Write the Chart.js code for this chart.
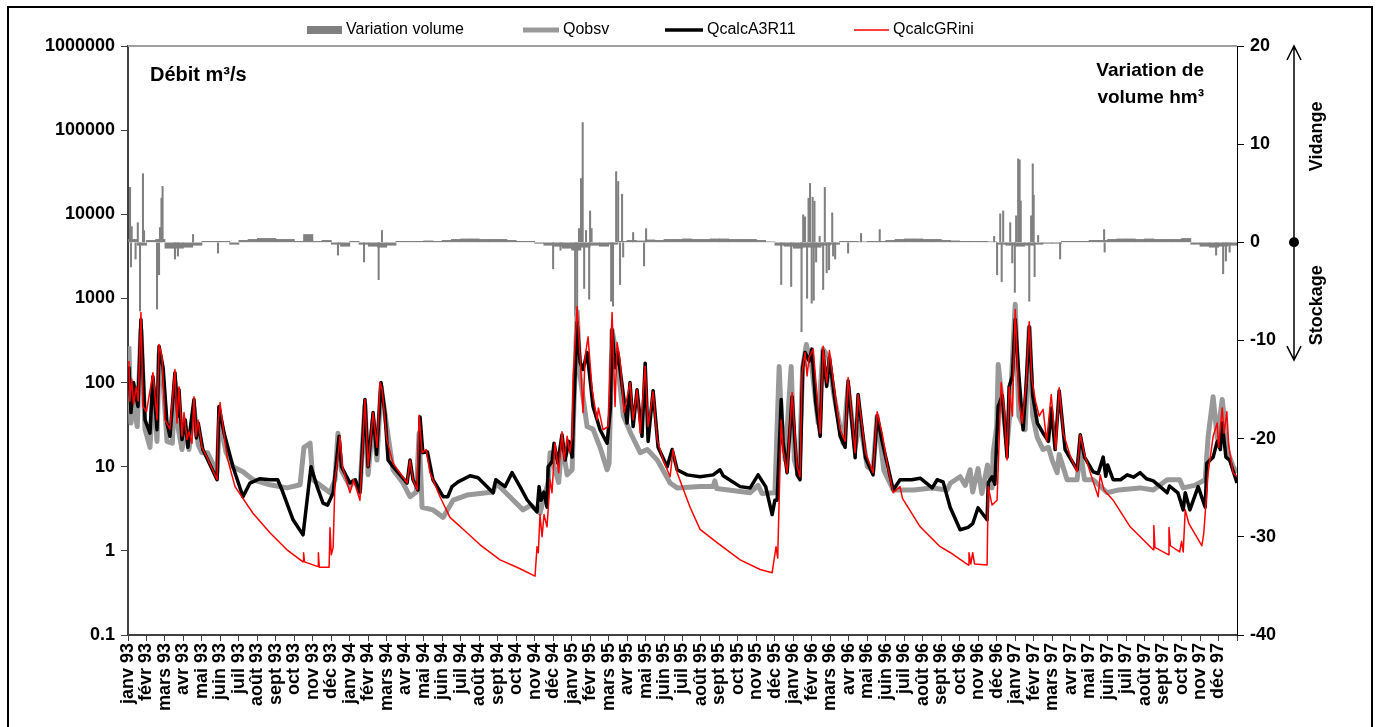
<!DOCTYPE html>
<html lang="fr">
<head>
<meta charset="UTF-8">
<title>Débit et variation de volume 1993-1997</title>
<script src="https://cdn.jsdelivr.net/npm/chart.js"></script>
<style>
  html, body { margin: 0; padding: 0; background: #fff; }
  .chart-container { position: relative; width: 1380px; height: 727px; }
</style>
</head>
<body>
<div class="chart-container"><canvas id="debitChart" width="1380" height="727"></canvas></div>
<script>
// axe des x : mois depuis le 1er janv 93 (0 .. 60)
const moisNoms = ['janv', 'févr', 'mars', 'avr', 'mai', 'juin', 'juil', 'août', 'sept', 'oct', 'nov', 'déc'];
const annees = ['93', '94', '95', '96', '97'];
const logTicks = [0.1, 1, 10, 100, 1000, 10000, 100000, 1000000];

// débits m3/s : [mois, valeur]
const qObsv = [[0.05,270],[0.16,33],[0.3,60],[0.5,30],[0.7,425],[0.92,28],[1.19,17],[1.35,90],[1.57,20],[1.68,220],[1.9,100],[2.11,20],[2.4,19],[2.54,100],[2.7,30],[2.92,16],[3.1,28],[3.3,16],[3.57,50],[3.8,18],[4.0,14.7],[4.3,14.7],[4.82,8.5],[4.95,36],[5.3,15],[5.68,10],[6.22,8.7],[6.76,7],[7.68,6.1],[8.6,5.6],[9.31,6.1],[9.52,17],[9.85,19],[10.0,7],[10.5,5.8],[10.93,4.9],[11.2,7],[11.36,25],[11.55,9],[12.01,5.8],[12.2,6.8],[12.55,5.5],[12.82,55],[12.99,8],[13.26,36],[13.47,12],[13.69,90],[14.0,30],[14.34,9.2],[14.88,6.4],[15.26,4.4],[15.6,5],[15.75,25],[15.91,3.3],[16.5,3.07],[17.05,2.5],[17.59,4],[18.34,4.6],[19.75,5],[19.9,6.4],[20.4,5],[21.37,3.07],[21.8,3.5],[22.29,2.8],[22.73,6.5],[22.84,14.7],[23.3,6.5],[23.48,19],[23.76,8],[24.03,9.2],[24.13,58],[24.3,700],[24.46,118],[24.84,30],[25.16,28],[25.54,17],[25.92,9.2],[26.03,11],[26.19,420],[26.46,190],[26.8,40],[27.2,25],[27.71,14.7],[28.1,16],[28.63,12],[28.84,10],[29.33,6.4],[29.71,5.6],[30.95,5.8],[31.66,5.8],[31.75,6.8],[31.85,5.5],[33.66,4.9],[34.09,6],[34.3,4.8],[35.0,4.9],[35.23,155],[35.34,40],[35.55,12],[35.88,155],[36.05,12],[36.3,7.6],[36.5,150],[36.7,283],[37.0,150],[37.34,33],[37.6,250],[37.9,200],[38.2,70],[38.69,19],[38.96,90],[39.34,17],[39.6,35],[40.0,10],[40.31,9],[40.53,40],[40.9,9],[41.4,5.3],[42.5,5.3],[43.5,5.6],[44.32,5.3],[44.5,6.4],[45.02,7.6],[45.3,6.0],[45.56,9.2],[45.7,5.0],[45.99,9.5],[46.2,4.8],[46.5,10.5],[46.75,5.6],[46.81,14.7],[47.0,30],[47.08,164],[47.3,60],[47.56,18],[47.7,40],[48.0,850],[48.2,40],[48.54,27.5],[48.76,450],[48.95,40],[49.2,22],[49.51,16],[49.8,17],[50.0,12],[50.27,8.5],[50.38,14],[50.81,7],[51.35,7],[51.52,16],[51.75,7],[52.22,7],[52.98,4.9],[53.6,5.3],[54.76,5.6],[55.47,5.3],[56.22,7],[56.9,7],[57.09,5.6],[57.7,6.0],[58.28,7],[58.44,23],[58.71,68],[58.93,22],[59.2,63],[59.5,15],[59.79,10],[60.0,8.5]];

const qA3R11 = [[0.05,155],[0.16,44],[0.3,100],[0.54,52],[0.7,560],[0.92,36],[1.19,25],[1.35,118],[1.57,27.5],[1.68,270],[1.9,150],[2.11,33],[2.27,23],[2.54,131],[2.7,40],[2.76,82],[2.92,21],[3.1,36],[3.24,17],[3.57,63],[3.7,22],[3.8,33],[4.05,16],[4.82,7],[4.92,52],[5.2,25],[5.68,10],[6.22,4.4],[6.6,6.4],[7.14,7.2],[7.68,7],[8.1,7],[8.39,4.9],[8.93,2.34],[9.47,1.55],[9.9,10],[10.23,5.8],[10.55,3.7],[10.8,3.5],[11.1,4.9],[11.25,10],[11.42,23],[11.55,10],[12.01,6.4],[12.3,7],[12.55,4.9],[12.82,63],[12.99,10],[13.26,44],[13.45,14],[13.69,100],[13.9,44],[14.07,12],[14.34,10],[15.1,6.4],[15.26,12],[15.42,7],[15.69,5.3],[15.8,39],[15.95,14.7],[16.2,15],[16.5,7],[17.05,4.4],[17.3,4.4],[17.53,5.8],[17.86,6.6],[18.51,7.8],[18.94,7.4],[19.75,4.9],[19.9,7.0],[20.4,5.8],[20.78,8.5],[21.21,5.8],[21.59,4.05],[22.13,2.9],[22.24,5.8],[22.35,4],[22.5,5.0],[22.67,3.3],[22.73,10],[22.94,11.5],[23.05,19],[23.25,11],[23.48,24],[23.65,12],[23.85,20],[24.03,13],[24.13,58],[24.3,520],[24.46,173],[24.62,143],[24.84,228],[25.16,52],[25.54,27.5],[25.92,19],[26.1,50],[26.19,425],[26.35,150],[26.5,228],[27.0,33],[27.16,100],[27.33,30],[27.54,82],[27.81,23],[27.98,170],[28.14,20],[28.41,80],[28.68,17],[29.17,10],[29.44,16],[29.71,9.2],[30.25,8],[30.95,7.6],[31.66,8],[32.03,9.2],[32.2,7.8],[33.12,5.8],[33.66,5.6],[34.09,8],[34.5,5.8],[34.85,2.7],[35.0,4],[35.12,4],[35.34,63],[35.44,20],[35.66,8.5],[35.93,68],[36.2,8.0],[36.36,7],[36.5,150],[36.63,228],[36.85,180],[37.0,250],[37.2,60],[37.45,23],[37.6,240],[37.8,90],[37.95,200],[38.3,50],[38.53,23],[38.8,17],[38.96,105],[39.34,12.8],[39.5,72],[39.9,12.8],[40.31,8],[40.53,40],[40.8,20],[41.4,5.3],[41.77,7],[42.4,7],[42.86,7.3],[43.51,5.6],[43.78,7],[44.1,6.6],[44.48,3.3],[45.02,1.78],[45.45,1.9],[45.7,2.1],[45.99,3.25],[46.48,2.34],[46.54,6.5],[46.75,7.6],[46.9,6.2],[47.08,52],[47.3,70],[47.56,13],[47.67,89],[47.85,120],[48.0,560],[48.2,120],[48.43,27.5],[48.6,100],[48.76,460],[48.95,70],[49.2,33],[49.51,25],[49.8,20],[49.95,50],[50.16,16],[50.38,80],[50.7,16],[51.35,9.2],[51.52,24],[51.75,13],[52.22,8.7],[52.49,8.3],[52.76,13],[52.9,7.7],[53.0,10.5],[53.3,7],[53.7,7.0],[54.06,8],[54.4,7.5],[54.76,8.5],[55.1,7.2],[55.47,6.8],[55.84,5.8],[56.22,4.9],[56.35,5.9],[56.8,4.9],[57.09,3.07],[57.2,4.9],[57.45,3.07],[57.9,5.8],[58.28,3.3],[58.37,11],[58.71,13],[58.93,20],[59.1,16],[59.2,33],[59.4,13],[59.6,12],[60.0,6.4]];

const qGRini = [[0.05,180],[0.1,60],[0.2,110],[0.3,55],[0.45,90],[0.55,60],[0.7,680],[0.81,52],[1.0,45],[1.35,131],[1.57,36],[1.68,283],[1.84,204],[2.0,36],[2.27,28],[2.54,143],[2.65,33],[2.76,89],[2.92,23],[3.03,44],[3.19,21],[3.3,26],[3.46,19],[3.57,68],[3.68,23],[3.79,36],[4.0,17],[4.27,13],[4.82,7],[4.87,33],[4.98,58],[5.14,30],[5.36,13],[5.79,5.8],[6.76,2.8],[7.68,1.64],[8.6,1.03],[9.47,0.74],[9.5,0.95],[9.55,0.74],[10.28,0.65],[10.3,0.95],[10.35,0.64],[10.88,0.64],[10.93,1.88],[11.0,0.9],[11.1,1.1],[11.2,7],[11.36,13],[11.47,23],[11.6,10],[12.01,4.9],[12.2,7],[12.55,4.0],[12.82,63],[12.99,10],[13.26,44],[13.47,17],[13.64,100],[13.75,82],[14.0,21],[14.34,11],[15.1,6.4],[15.26,12],[15.42,7],[15.64,5.3],[15.75,41],[15.91,14.7],[16.13,16],[16.34,8.5],[16.88,4.4],[17.42,2.5],[18.34,1.64],[19.05,1.18],[20.13,0.78],[21.1,0.63],[22.02,0.5],[22.13,1.12],[22.2,0.95],[22.29,2.7],[22.4,1.47],[22.51,2.7],[22.67,1.93],[22.84,7],[22.94,4.9],[23.1,19],[23.3,8.5],[23.48,26],[23.6,12],[23.76,23],[23.9,14.7],[24.03,23],[24.08,108],[24.3,800],[24.46,204],[24.62,44],[24.73,204],[24.89,350],[25.11,82],[25.38,36],[25.45,50],[25.7,27.5],[25.97,30],[26.03,68],[26.19,680],[26.35,52],[26.46,300],[26.62,188],[26.84,44],[27.16,100],[27.33,36],[27.54,82],[27.71,25],[27.98,155],[28.14,30],[28.41,78],[28.63,21],[28.95,12],[29.33,7.6],[29.49,16],[29.71,8.5],[30.41,3.3],[30.95,1.8],[31.87,1.25],[33.12,0.78],[34.2,0.6],[34.85,0.55],[35.06,1.12],[35.15,0.82],[35.34,36],[35.44,16],[35.66,8.5],[35.93,76],[36.2,10],[36.36,7.6],[36.47,131],[36.63,228],[36.74,120],[36.85,200],[37.07,250],[37.45,25],[37.61,270],[37.8,100],[37.95,240],[38.3,60],[38.53,27.5],[38.8,20],[38.96,115],[39.34,14.7],[39.5,72],[39.9,14.7],[40.31,8.5],[40.53,45],[40.8,25],[41.1,10],[41.4,4.9],[41.77,5.8],[41.9,4.2],[42.86,1.93],[43.94,1.12],[44.5,0.95],[45.45,0.68],[45.5,0.95],[45.6,0.7],[45.7,0.95],[45.8,0.7],[46.48,0.68],[46.54,5.8],[46.75,3.5],[47.02,4],[47.24,100],[47.4,50],[47.56,12],[47.67,89],[47.85,40],[48.0,740],[48.2,60],[48.38,33],[48.6,100],[48.76,530],[48.9,110],[49.1,60],[49.3,40],[49.4,44],[49.51,48],[49.7,20],[49.95,72],[50.2,16],[50.38,87],[50.6,25],[51.0,13],[51.35,8.7],[51.52,24],[51.75,14],[52.1,8],[52.49,4.4],[52.6,8],[52.8,5.3],[53.3,4.0],[54.22,1.93],[55.47,1.03],[55.5,2.0],[55.56,1.1],[56.28,0.9],[56.32,1.9],[56.4,1.15],[56.9,0.97],[57.0,1.3],[57.09,0.97],[57.2,3.07],[57.4,2.1],[58.0,1.25],[58.1,1.15],[58.2,1.6],[58.44,8.5],[58.71,23],[58.93,33],[59.0,17],[59.2,50],[59.3,25],[59.45,45],[59.55,18],[59.79,8.5],[60.0,7.6]];

// variation de volume hm3 : pics journaliers [mois, valeur]
const volPics = [[0.11,5.6],[0.16,-2.5],[0.2,1.6],[0.41,-1.7],[0.53,2.0],[0.65,-7.0],[0.81,7.0],[0.87,1.2],[1.57,-6.8],[1.68,-3.3],[1.73,1.5],[1.81,4.5],[1.87,5.7],[2.54,-1.7],[2.7,-1.4],[3.52,0.8],[4.87,-1.1],[11.36,-1.3],[12.77,-2.0],[13.56,-3.8],[13.74,1.2],[23.0,-2.7],[23.4,-0.8],[24.19,-7.5],[24.3,-8.0],[24.4,1.4],[24.51,6.5],[24.6,12.2],[24.68,-4.7],[24.78,1.2],[24.95,-5.8],[25.0,3.2],[25.08,1.4],[26.14,-6.0],[26.24,-6.5],[26.41,7.2],[26.52,6.2],[26.62,-4.3],[26.73,4.9],[26.79,-1.5],[27.33,1.0],[27.92,-2.4],[28.03,1.4],[35.34,-4.3],[35.88,-4.5],[36.44,-9.1],[36.53,2.8],[36.63,2.6],[36.74,-5.7],[36.82,4.5],[36.9,6.0],[36.99,-6.2],[37.04,4.6],[37.1,-5.9],[37.14,4.2],[37.23,-2.0],[37.42,0.6],[37.61,-4.8],[37.7,5.6],[37.8,-3.1],[37.93,-2.8],[38.1,3.0],[38.15,-1.4],[38.26,-1.7],[38.96,-1.1],[39.66,0.9],[40.67,1.3],[46.86,0.6],[47.02,-3.3],[47.19,2.9],[47.27,-4.0],[47.35,3.2],[47.73,2.0],[47.84,-2.1],[47.98,-5.1],[48.05,2.7],[48.16,8.5],[48.24,8.4],[48.3,4.2],[48.76,-6.0],[48.86,2.7],[48.95,8.0],[49.0,4.8],[49.05,-3.5],[49.24,0.7],[50.43,-1.7],[52.81,1.3],[52.84,-1.0],[58.87,-1.3],[59.25,-3.2],[59.4,-1.9],[59.6,-1.0]];

// variation de volume hm3 : niveau de fond par demi-mois (janv 93 .. déc 97)
const volQuinzaine = [
  0.3,-0.3, 0.2,0.3, -0.6,-0.6, -0.5,-0.3, 0.1,0.1, 0.1,-0.2, 0.2,0.3, 0.4,0.4, 0.3,0.3, 0.1,0.8, 0.1,0.2, -0.2,-0.4,
  0.1,-0.2, -0.4,-0.5, -0.3,0.1, 0.1,0.1, 0.15,0.1, 0.2,0.3, 0.35,0.35, 0.3,0.3, 0.3,0.2, 0.1,0.1, -0.1,-0.3, -0.4,-0.6,
  -0.8,-0.5, -0.3,-0.4, -0.2,0.1, 0.2,0.15, 0.25,0.2, 0.3,0.3, 0.35,0.3, 0.3,0.35, 0.35,0.3, 0.3,0.3, 0.2,0.05, -0.3,-0.4,
  -0.6,-0.5, -0.5,-0.3, -0.2,0.1, 0.1,0.05, 0.1,0.1, 0.2,0.3, 0.35,0.35, 0.3,0.3, 0.2,0.15, 0.1,0.1, 0.1,0.05, -0.2,-0.3,
  -0.4,-0.3, -0.2,-0.1, -0.1,0.1, 0.1,0.1, 0.2,0.2, 0.3,0.35, 0.35,0.3, 0.35,0.3, 0.3,0.3, 0.4,-0.2, -0.4,-0.5, -0.4,-0.3
];

const etiquettes = [];
annees.forEach(a => moisNoms.forEach(m => etiquettes.push(m + ' ' + a)));

const FONT = 'Arial, "Liberation Sans", sans-serif';
const toXY = arr => arr.map(p => ({ x: p[0], y: p[1] }));

// textes, fleche Vidange/Stockage, legende et cadre
const habillage = {
  id: 'habillage',
  afterDraw(chart) {
    const { ctx, chartArea: a, scales: { y2 } } = chart;
    ctx.save();

    // bord haut de la zone de tracé
    ctx.strokeStyle = '#a0a0a0';
    ctx.lineWidth = 2;
    ctx.beginPath();
    ctx.moveTo(a.left, a.top);
    ctx.lineTo(a.right, a.top);
    ctx.stroke();

    ctx.fillStyle = '#000';
    ctx.font = 'bold 20px ' + FONT;
    ctx.textBaseline = 'alphabetic';
    ctx.textAlign = 'left';
    ctx.fillText('Débit m³/s', a.left + 22, a.top + 35);
    ctx.font = 'bold 19px ' + FONT;
    ctx.textAlign = 'right';
    ctx.fillText('Variation de', a.right - 33, a.top + 30);
    ctx.fillText('volume hm³', a.right - 33, a.top + 57);

    // fleche verticale
    const ax = a.right + 57;
    const yTop = y2.getPixelForValue(20);
    const yBot = y2.getPixelForValue(-12);
    const y0 = y2.getPixelForValue(0);
    ctx.strokeStyle = '#000';
    ctx.lineWidth = 1.5;
    ctx.beginPath();
    ctx.moveTo(ax, yTop); ctx.lineTo(ax, yBot);
    ctx.moveTo(ax - 7, yTop + 14); ctx.lineTo(ax, yTop); ctx.lineTo(ax + 7, yTop + 14);
    ctx.moveTo(ax - 7, yBot - 14); ctx.lineTo(ax, yBot); ctx.lineTo(ax + 7, yBot - 14);
    ctx.stroke();
    ctx.beginPath();
    ctx.arc(ax, y0, 5, 0, Math.PI * 2);
    ctx.fill();

    ctx.font = 'bold 18px ' + FONT;
    ctx.textAlign = 'center';
    ctx.textBaseline = 'middle';
    [['Vidange', y2.getPixelForValue(10.8)], ['Stockage', y2.getPixelForValue(-6.4)]].forEach(([t, ty]) => {
      ctx.save();
      ctx.translate(ax + 23, ty);
      ctx.rotate(-Math.PI / 2);
      ctx.fillText(t, 0, 0);
      ctx.restore();
    });

    // legende
    const legY = 30;
    const cles = [[0, 307, 35], [1, 523, 36], [2, 665, 38], [3, 854, 35]];
    ctx.font = '16px ' + FONT;
    ctx.textAlign = 'left';
    ctx.textBaseline = 'middle';
    cles.forEach(([i, x0, w]) => {
      const ds = chart.data.datasets[i];
      if (ds.type === 'bar') {
        ctx.fillStyle = ds.backgroundColor;
        ctx.fillRect(x0, legY - 4, w, 8);
      } else {
        ctx.strokeStyle = ds.borderColor;
        ctx.lineWidth = ds.borderWidth;
        ctx.beginPath();
        ctx.moveTo(x0, legY); ctx.lineTo(x0 + w, legY);
        ctx.stroke();
      }
      ctx.fillStyle = '#000';
      ctx.fillText(ds.label, x0 + w + 4, legY);
    });

    // cadre
    ctx.strokeStyle = '#000';
    ctx.lineWidth = 2;
    ctx.strokeRect(8, 7, 1364, 740);
    ctx.restore();
  }
};

const tickFont = { family: FONT, size: 18, weight: 'bold' };

new Chart(document.getElementById('debitChart'), {
  type: 'line',
  data: {
    datasets: [
      { type: 'bar', label: 'Variation volume', data: toXY(volPics), yAxisID: 'y2',
        backgroundColor: '#808080', borderWidth: 0, barThickness: 1.4, grouped: false, order: 4 },
      { label: 'Qobsv', data: toXY(qObsv), yAxisID: 'y', borderColor: '#999999', borderWidth: 5,
        borderJoinStyle: 'round', pointRadius: 0, tension: 0, fill: false, order: 3 },
      { label: 'QcalcA3R11', data: toXY(qA3R11), yAxisID: 'y', borderColor: '#000000', borderWidth: 3.5,
        borderJoinStyle: 'round', pointRadius: 0, tension: 0, fill: false, order: 2 },
      { label: 'QcalcGRini', data: toXY(qGRini), yAxisID: 'y', borderColor: '#ff0000', borderWidth: 1.5,
        borderJoinStyle: 'round', pointRadius: 0, tension: 0, fill: false, order: 1 },
      { type: 'bar', label: 'fond', data: volQuinzaine.map((v, i) => ({ x: (i + 0.5) / 2, y: v })), yAxisID: 'y2',
        backgroundColor: '#808080', borderWidth: 0, barThickness: 9.4, grouped: false, order: 5 }
    ]
  },
  options: {
    responsive: false,
    maintainAspectRatio: false,
    animation: false,
    layout: { padding: { top: 46, left: 0, right: 0, bottom: 0 } },
    plugins: { legend: { display: false }, tooltip: { enabled: false } },
    scales: {
      x: {
        type: 'linear', min: 0, max: 60, offset: false,
        afterBuildTicks: s => { s.ticks = etiquettes.map((_, i) => ({ value: i })).concat([{ value: 60 }]); },
        afterFit: s => { s.height = 92; },
        ticks: { autoSkip: false, minRotation: 90, maxRotation: 90, padding: 2, color: '#000', font: tickFont,
          callback: v => etiquettes[v] || '' },
        grid: { drawOnChartArea: false, tickLength: 6, color: '#404040', offset: false },
        border: { color: '#404040', width: 2 }
      },
      y: {
        type: 'logarithmic', position: 'left', min: 0.1, max: 1000000,
        afterBuildTicks: s => { s.ticks = logTicks.map(v => ({ value: v })); },
        afterFit: s => { s.width = 128; },
        ticks: { color: '#000', font: tickFont, padding: 6, callback: v => String(v) },
        grid: { drawOnChartArea: false, tickLength: 7, color: '#404040' },
        border: { color: '#404040', width: 2 }
      },
      y2: {
        type: 'linear', position: 'right', min: -40, max: 20,
        afterFit: s => { s.width = 143; },
        ticks: { stepSize: 10, color: '#000', font: tickFont, padding: 6 },
        grid: { drawOnChartArea: false, tickLength: 7, color: '#000' },
        border: { color: '#000', width: 1 }
      }
    }
  },
  plugins: [habillage]
});
</script>
</body>
</html>
